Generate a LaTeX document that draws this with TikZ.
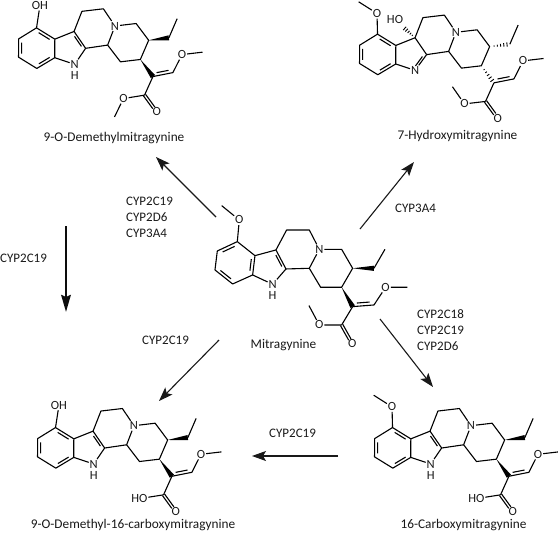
\documentclass[tikz,border=0pt]{standalone}
\usepackage{fontspec}
\setmainfont{Carlito}
\usetikzlibrary{calc,arrows.meta}
\tikzset{
  bond/.style={line width=1.1pt,line join=round},
  atom/.style={inner sep=0.8pt,font=\fontsize{12.5}{12.5}\selectfont,text=black!90},
  molname/.style={inner sep=0pt,font=\fontsize{13.3}{13.3}\selectfont,text=black!90},
  enzyme/.style={inner sep=0pt,font=\fontsize{13}{16}\selectfont,text=black!90,align=left},
  rxn/.style={line width=1.1pt,-{Stealth[length=14pt,width=10pt,inset=3pt]},black!90},
  rxnbold/.style={line width=2.5pt,-{Stealth[length=17pt,width=9.5pt,inset=2pt]},black!95},
  mol/.style={x=0.3333pt,y=-0.3333pt},
  molsmall/.style={x=0.3177pt,y=-0.3177pt}
}
\newcommand{\innerline}[3]{\draw[bond] ($(#1)!.14!(#2)!.17!(#3)$) -- ($(#2)!.14!(#1)!.17!(#3)$);}
\newcommand{\wedgebond}[2]{\fill[black] (#1) -- ($(#2)!2.6pt!90:(#1)$) -- ($(#2)!2.6pt!-90:(#1)$) -- cycle;}
\newcommand{\hashbond}[2]{\foreach \t/\w in {.22/.6,.38/1,.54/1.4,.70/1.8,.86/2.2,1/2.6}{\draw[line width=.9pt] ($(#1)!\t!(#2)!\w pt!90:(#2)$) -- ($(#1)!\t!(#2)!\w pt!-90:(#2)$);}}
\newcommand{\carbonyl}[2]{\draw[bond,shorten >=5pt] ($(#1)!1.3pt!90:(#2)$) -- ($(#2)!1.3pt!-90:(#1)$);\draw[bond,shorten >=5pt] ($(#1)!1.3pt!-90:(#2)$) -- ($(#2)!1.3pt!90:(#1)$);}
\newcommand{\frameatoms}{
  \coordinate (a1) at (112,155); \coordinate (a2) at (52,183); \coordinate (a3) at (45,240);
  \coordinate (a4) at (98,282); \coordinate (a5) at (158,255); \coordinate (a6) at (165,197);
  \coordinate (a7) at (228,180); \coordinate (a8) at (258,237);
  \coordinate (a9) at (260,120); \coordinate (a10) at (328,120);
  \coordinate (a11) at (328,235); \coordinate (a12) at (362,292); \coordinate (a13) at (425,292);
  \coordinate (a14) at (458,235); \coordinate (a15) at (425,178);
  \coordinate (et1) at (522,235); \coordinate (et2) at (555,178);
  \coordinate (v1) at (458,350); \coordinate (v2) at (522,345);
  \coordinate (ec) at (425,405); \coordinate (benz) at (105,220); \coordinate (five) at (205,232);
  \coordinate (up) at (490,290);
  \node[atom] (N) at (358,178) {N};
  \node[atom] (vo) at (557,292) {O};
  \coordinate (vme) at (622,292);
  \draw[bond] (a1) -- (a2) -- (a3) -- (a4) -- (a5) -- (a6) -- cycle;
  \draw[bond] (a6) -- (a7) -- (a8);
  \draw[bond] (a7) -- (a9) -- (a10) -- (N) -- (a11) -- (a8);
  \draw[bond] (N) -- (a15) -- (a14) -- (a13) -- (a12) -- (a11);
  \draw[bond] (et1) -- (et2);
  \draw[bond] (v1) -- (v2) -- (vo) -- (vme);
  \innerline{v1}{v2}{up}
  \draw[bond] (v1) -- (ec);
}
\newcommand{\indolenh}{
  \node[atom] (nh) at (218,283) {N};
  \node[atom,anchor=north,yshift=-1.2pt] (nhh) at (nh.south) {H};
  \draw[bond] (a5) -- (nh) -- (a8);
  \innerline{a7}{a8}{five}
}
\newcommand{\ringA}{\innerline{a2}{a3}{benz}\innerline{a4}{a5}{benz}\innerline{a6}{a1}{benz}}
\newcommand{\ringB}{\innerline{a1}{a2}{benz}\innerline{a3}{a4}{benz}\innerline{a5}{a6}{benz}}
\newcommand{\methoxy}{\node[atom] (oa) at (118,90) {O}; \coordinate (oam) at (65,47); \draw[bond] (a1) -- (oa) -- (oam);}
\newcommand{\hydroxy}{\node[atom] (oh) at (131,86) {OH}; \draw[bond] (a1) -- (oh);}
\newcommand{\solidwedges}{\wedgebond{a14}{et1}\wedgebond{a13}{v1}}
\newcommand{\esterup}{
  \node[atom] (eo) at (358,405) {O}; \coordinate (eme) at (327,347); \node[atom] (eod) at (457,462) {O};
  \draw[bond] (ec) -- (eo) -- (eme); \carbonyl{ec}{eod}
}
\newcommand{\esterdown}{
  \node[atom] (eo) at (358,408) {O}; \coordinate (eme) at (323,462); \node[atom] (eod) at (457,462) {O};
  \draw[bond] (ec) -- (eo) -- (eme); \carbonyl{ec}{eod}
}
\newcommand{\acid}{
  \node[atom] (eoh) at (348,408) {HO}; \node[atom] (eod) at (457,462) {O};
  \draw[bond] (ec) -- (eoh); \carbonyl{ec}{eod}
}
\begin{document}
\begin{tikzpicture}[x=1pt,y=-1pt]
\useasboundingbox (0,0) rectangle (558,533);
\begin{scope}[name prefix=mit-,shift={(319.3pt,-249.3pt)},mol,shift={(-358,-178)}]
  \frameatoms \methoxy \indolenh \ringB \solidwedges \esterup
\end{scope}
\begin{scope}[name prefix=dem-,shift={(115pt,-26pt)},rotate=6.7,molsmall,shift={(-358,-178)}]
  \frameatoms \hydroxy \indolenh \ringA \solidwedges \esterdown
\end{scope}
\begin{scope}[name prefix=hyd-,shift={(456pt,-32.3pt)},rotate=6.7,molsmall,shift={(-358,-178)}]
  \frameatoms \methoxy
  \node[atom] (nim) at (216,282) {N};
  \draw[bond] (a5) -- (nim) -- (a8);
  \innerline{nim}{a8}{five}
  \ringA
  \hashbond{a14}{et1}\hashbond{a13}{v1}
  \node[atom] (oh7) at (172,116) {HO};
  \coordinate (h7) at ($(a7)!.6!(oh7)$);
  \hashbond{a7}{h7}
  \esterup
\end{scope}
\begin{scope}[name prefix=dca-,shift={(134pt,-425.7pt)},rotate=6.7,molsmall,shift={(-358,-178)}]
  \frameatoms \hydroxy \indolenh \ringA \solidwedges \acid
\end{scope}
\begin{scope}[name prefix=car-,shift={(471pt,-425.7pt)},rotate=6.7,molsmall,shift={(-358,-178)}]
  \frameatoms \methoxy \indolenh \ringA \solidwedges \acid
\end{scope}
\node[molname] (nmit) at (283.5,345.5) {Mitragynine};
\node[molname] (ndem) at (114,138) {9-O-Demethylmitragynine};
\node[molname] (nhyd) at (457.5,135.7) {7-Hydroxymitragynine};
\node[molname] (ndca) at (133,525.5) {9-O-Demethyl-16-carboxymitragynine};
\node[molname] (ncar) at (463.5,525.5) {16-Carboxymitragynine};
\node[enzyme,anchor=west] (e1) at (126,217) {CYP2C19\\CYP2D6\\CYP3A4};
\node[enzyme,anchor=west] (e2) at (395,208) {CYP3A4};
\node[enzyme,anchor=west] (e3) at (0,258) {CYP2C19};
\node[enzyme,anchor=west] (e4) at (142,340) {CYP2C19};
\node[enzyme,anchor=west] (e5) at (417,330) {CYP2C18\\CYP2C19\\CYP2D6};
\node[enzyme,anchor=west] (e6) at (269,433) {CYP2C19};
\coordinate (r1s) at (216,217); \coordinate (r1e) at (156,157);
\coordinate (r2s) at (360,229); \coordinate (r2e) at (414,162);
\coordinate (r3s) at (66,226); \coordinate (r3e) at (66,312);
\coordinate (r4s) at (219,340); \coordinate (r4e) at (159,401);
\coordinate (r5s) at (380,319); \coordinate (r5e) at (433,387);
\coordinate (r6s) at (338,456); \coordinate (r6e) at (252,456);
\draw[rxn] (r1s) -- (r1e);
\draw[rxn] (r2s) -- (r2e);
\draw[rxnbold] (r3s) -- (r3e);
\draw[rxn] (r4s) -- (r4e);
\draw[rxn] (r5s) -- (r5e);
\draw[rxn] (r6s) -- (r6e);
\end{tikzpicture}
\end{document}
